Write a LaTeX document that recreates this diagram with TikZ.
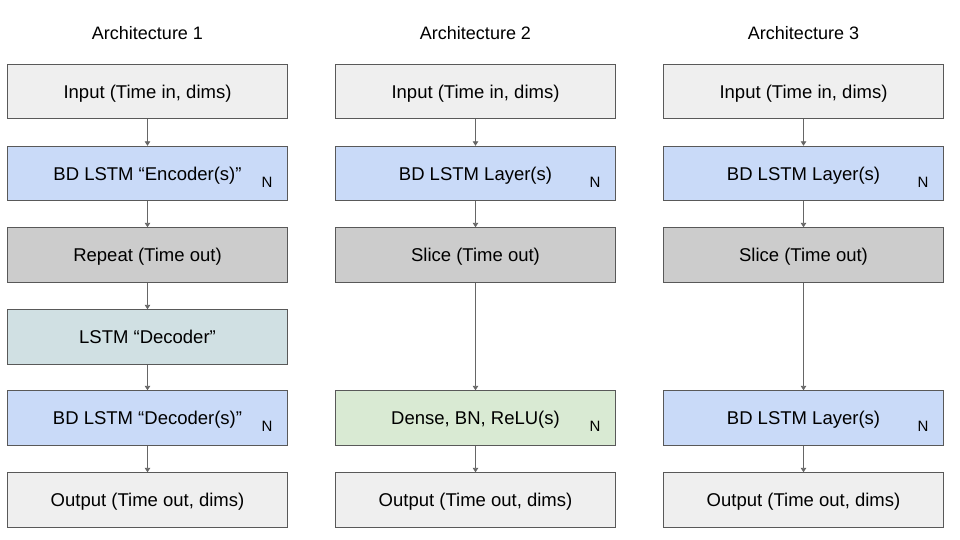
\documentclass[tikz,border=0pt]{standalone}
\usepackage{fontspec}
\setmainfont{Liberation Sans}
\usetikzlibrary{arrows.meta,positioning}
\definecolor{archInk}{HTML}{595959}
\definecolor{archLine}{HTML}{666666}
\definecolor{archIO}{HTML}{EFEFEF}
\definecolor{archBlue}{HTML}{C9DAF8}
\definecolor{archGrey}{HTML}{CCCCCC}
\definecolor{archTeal}{HTML}{D0E0E3}
\definecolor{archGreen}{HTML}{D9EAD3}
\tikzset{
  archbox/.style={draw=archInk, line width=0.9pt, minimum width=280pt, minimum height=54.5pt,
                  inner sep=0pt, text depth=0pt, font=\fontsize{18.5}{22}\selectfont, text=black},
  iobox/.style={archbox, fill=archIO},
  lstmbox/.style={archbox, fill=archBlue},
  cutbox/.style={archbox, fill=archGrey},
  decbox/.style={archbox, fill=archTeal},
  densebox/.style={archbox, fill=archGreen},
  archtitle/.style={font=\fontsize{18}{22}\selectfont, text=black},
  repnote/.style={font=\fontsize{15}{18}\selectfont, text=black},
  archarrow/.style={-{Triangle[length=4.5pt,width=5.5pt]}, line width=0.9pt, draw=archLine}
}

\begin{document}
\begin{tikzpicture}[x=1pt, y=-1pt]

\useasboundingbox (0,0) rectangle (960,540);

% titles
\node[archtitle] (t1) at (147.5,33) {Architecture 1};
\node[archtitle] (t2) at (475.5,33) {Architecture 2};
\node[archtitle] (t3) at (803.5,33) {Architecture 3};

% architecture 1
\node[iobox]    (in1)  at (147.5,91.5)  {Input (Time in, dims)};
\node[lstmbox]  (enc1) at (147.5,173.5) {BD LSTM “Encoder(s)”};
\node[cutbox]   (rep1) at (147.5,255)   {Repeat (Time out)};
\node[decbox]   (dec1) at (147.5,337)   {LSTM “Decoder”};
\node[lstmbox]  (bdd1) at (147.5,418)   {BD LSTM “Decoder(s)”};
\node[iobox]    (out1) at (147.5,500)   {Output (Time out, dims)};
\node[repnote]  (n1a)  at (267,182)     {N};
\node[repnote]  (n1b)  at (267,426.5)   {N};

% architecture 2
\node[iobox]    (in2)  at (475.5,91.5)  {Input (Time in, dims)};
\node[lstmbox]  (enc2) at (475.5,173.5) {BD LSTM Layer(s)};
\node[cutbox]   (sl2)  at (475.5,255)   {Slice (Time out)};
\node[densebox] (den2) at (475.5,418)   {Dense, BN, ReLU(s)};
\node[iobox]    (out2) at (475.5,500)   {Output (Time out, dims)};
\node[repnote]  (n2a)  at (595,182)     {N};
\node[repnote]  (n2b)  at (595,426.5)   {N};

% architecture 3
\node[iobox]    (in3)  at (803.5,91.5)  {Input (Time in, dims)};
\node[lstmbox]  (enc3) at (803.5,173.5) {BD LSTM Layer(s)};
\node[cutbox]   (sl3)  at (803.5,255)   {Slice (Time out)};
\node[lstmbox]  (bdl3) at (803.5,418)   {BD LSTM Layer(s)};
\node[iobox]    (out3) at (803.5,500)   {Output (Time out, dims)};
\node[repnote]  (n3a)  at (923,182)     {N};
\node[repnote]  (n3b)  at (923,426.5)   {N};

% connectors
\foreach \a/\b in {in1/enc1, enc1/rep1, rep1/dec1, dec1/bdd1, bdd1/out1,
                   in2/enc2, enc2/sl2, sl2/den2, den2/out2,
                   in3/enc3, enc3/sl3, sl3/bdl3, bdl3/out3} {
  \draw[archarrow] (\a.south) -- (\b.north);
}

\end{tikzpicture}
\end{document}
